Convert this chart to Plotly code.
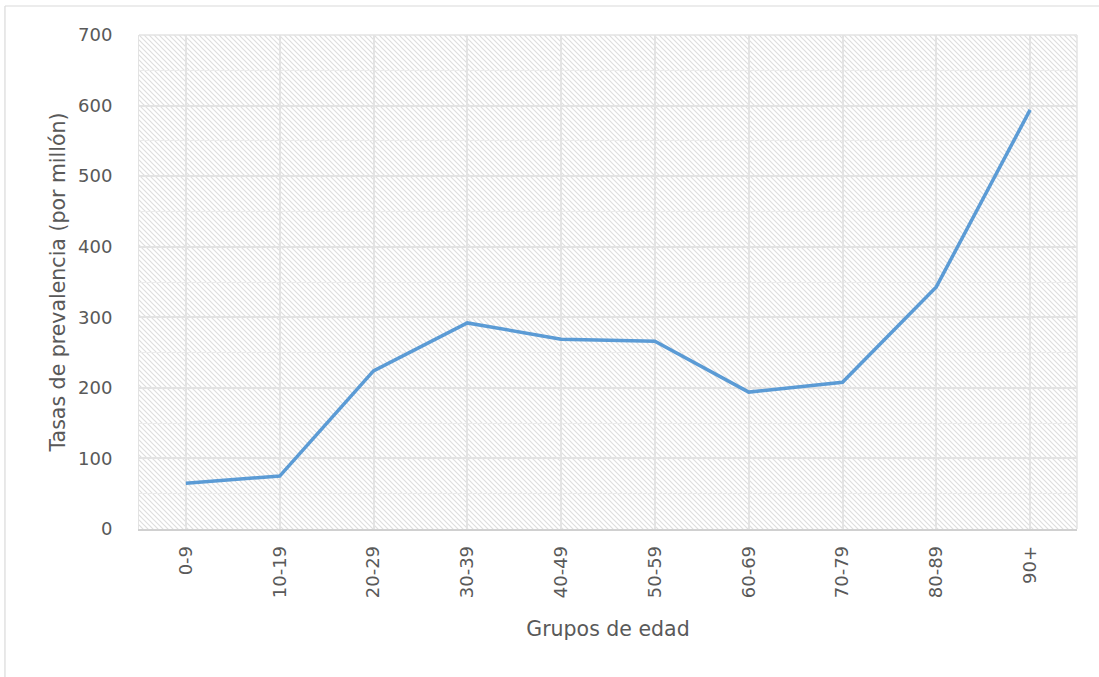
import plotly.graph_objects as go

# Datos
grupos = ['0-9', '10-19', '20-29', '30-39', '40-49', '50-59', '60-69', '70-79', '80-89', '90+']
tasas = [65, 75, 224, 292, 269, 266, 194, 208, 343, 594]
y_ticks = [0, 100, 200, 300, 400, 500, 600, 700]

# hatch background for the plot area, drawn as an svg pattern
hatch_svg = (
    "<svg xmlns='http://www.w3.org/2000/svg' width='938' height='494' "
    "preserveAspectRatio='none'>"
    "<defs><pattern id='h' width='5' height='5' patternUnits='userSpaceOnUse'>"
    "<path d='M-1,-1 L6,6 M-1,4 L1,6 M4,-1 L6,1' stroke='%23dedede' stroke-width='1.2'/>"
    "</pattern></defs>"
    "<rect width='100%' height='100%' fill='url(%23h)'/></svg>"
)

fig = go.Figure()
fig.add_trace(go.Scatter(
    x=grupos,
    y=tasas,
    mode='lines',
    line=dict(color='#5b9bd5', width=3.5),
    hoverinfo='x+y',
))

fig.update_layout(
    width=1099,
    height=677,
    margin=dict(l=139, r=22, t=35, b=148),
    paper_bgcolor='white',
    plot_bgcolor='rgba(0,0,0,0)',
    showlegend=False,
    font=dict(family='DejaVu Sans', size=18, color='#595959'),
    images=[dict(
        source='data:image/svg+xml;utf8,' + hatch_svg,
        xref='paper', yref='paper',
        x=0, y=1, sizex=1, sizey=1,
        xanchor='left', yanchor='top',
        sizing='stretch', layer='below',
    )],
    shapes=[
        # outer chart frame (only the top and left edges show)
        dict(type='line', xref='paper', yref='paper', x0=-0.1429, x1=1.04,
             y0=1.0587, y1=1.0587, line=dict(color='#d9d9d9', width=1.2)),
        dict(type='line', xref='paper', yref='paper', x0=-0.1429, x1=-0.1429,
             y0=1.0587, y1=-0.32, line=dict(color='#d9d9d9', width=1.2)),
        # top and right edges of the plot area
        dict(type='line', xref='paper', yref='paper', x0=1, x1=1, y0=0, y1=1,
             line=dict(color='#e3e3e3', width=1.5)),
        dict(type='line', xref='paper', yref='paper', x0=0, x1=1, y0=1, y1=1,
             line=dict(color='#e3e3e3', width=1.5)),
    ],
)

fig.update_xaxes(
    type='category',
    tickangle=-90,
    showgrid=True,
    gridcolor='#e3e3e3',
    gridwidth=1.5,
    minor=dict(showgrid=True, gridcolor='#e3e3e3', gridwidth=1.5),
    showline=True,
    linecolor='#d0d0d0',
    linewidth=1.5,
    ticks='',
    ticklabelstandoff=8,
    title=dict(text='Grupos de edad', font=dict(size=20.5, color='#595959'), standoff=24),
    range=[-0.5, len(grupos) - 0.5],
)

fig.update_yaxes(
    range=[0, 700],
    tickvals=y_ticks,
    showgrid=True,
    gridcolor='#e3e3e3',
    gridwidth=1.5,
    minor=dict(dtick=50, showgrid=True, gridcolor='#ececec', gridwidth=1),
    zeroline=False,
    showline=True,
    linecolor='#e3e3e3',
    ticks='',
    ticklabelstandoff=22,
    title=dict(text='Tasas de prevalencia (por millón)', font=dict(size=20.5, color='#595959'), standoff=6),
)

fig.write_html("out.html", config={'displayModeBar': False},
               post_script="document.body.style.margin='0';")
